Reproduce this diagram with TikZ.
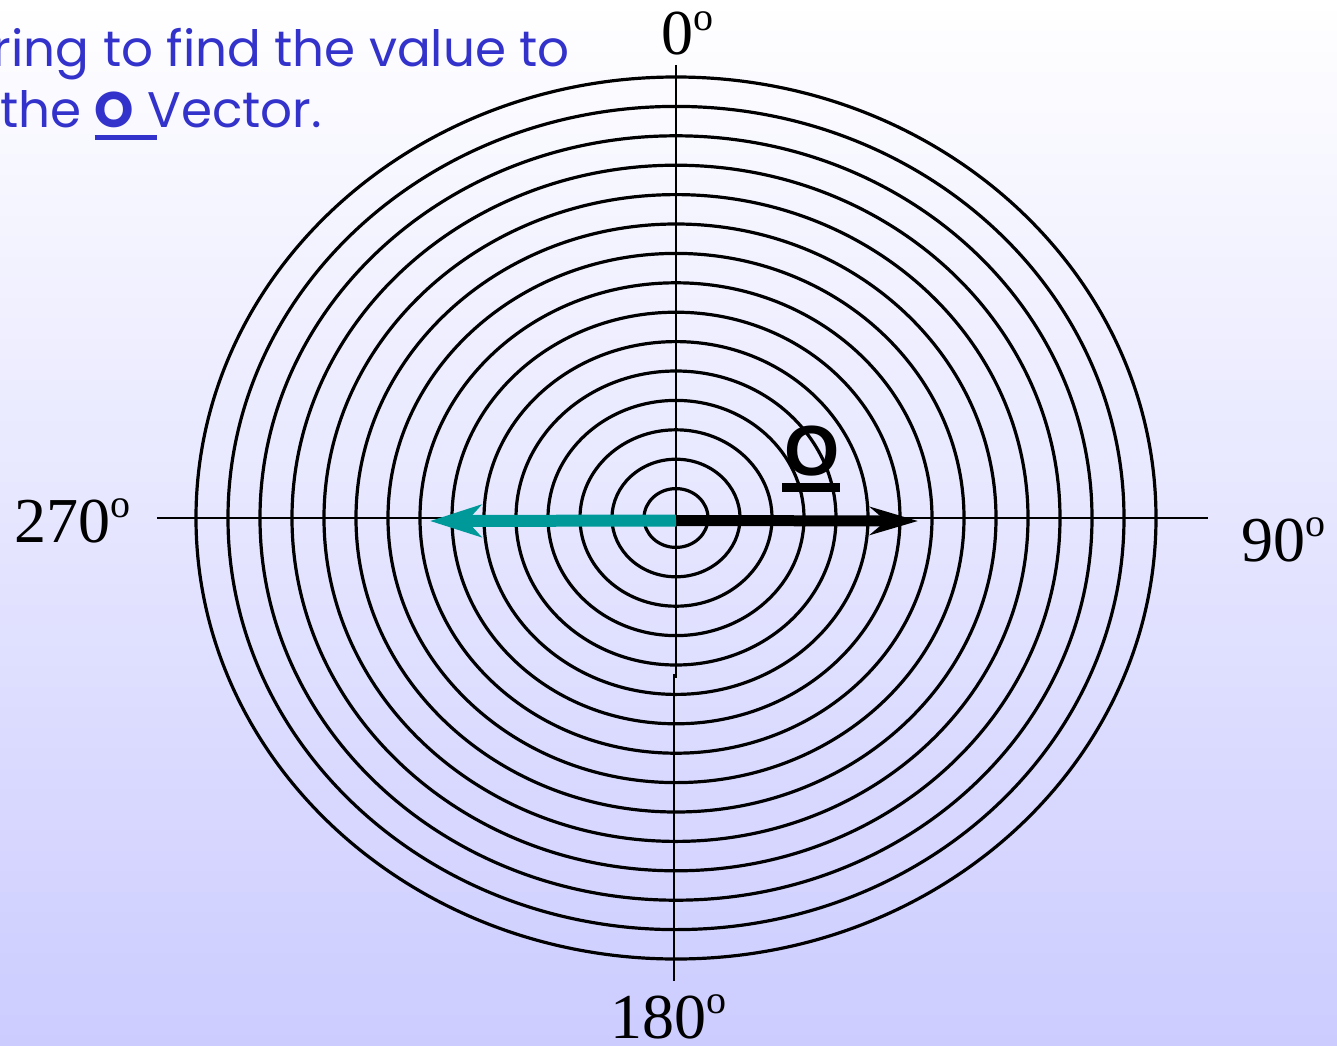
\documentclass[tikz,border=0pt]{standalone}
\usepackage{fontspec}
\usetikzlibrary{arrows.meta,positioning}
\newfontfamily\degfont{Liberation Serif}
\newfontfamily\notefont{Poppins}
\newfontfamily\vecfont{Liberation Sans}
\definecolor{notecol}{RGB}{51,51,204}
\definecolor{tealvec}{RGB}{0,153,153}
\definecolor{bgbottom}{RGB}{204,204,255}
\newcommand{\degsup}{\raisebox{0.39em}{\fontsize{40}{40}\selectfont o}}

\begin{document}
\begin{tikzpicture}[x=1pt,y=1pt,
  ring/.style={draw,line width=3.2pt},
  axisline/.style={line width=2.8pt},
  degree/.style={inner sep=0pt,anchor=base west,font=\degfont\fontsize{64}{64}\selectfont},
  note/.style={inner sep=0pt,text=notecol,font=\notefont\fontsize{50}{50}\selectfont},
  olabel/.style={inner sep=0pt,anchor=base,font=\vecfont\bfseries\fontsize{71}{71}\selectfont},
  outvec/.style={line width=11pt,-{Stealth[length=48pt,width=28pt,inset=16pt]}},
  backvec/.style={tealvec,line width=12pt,-{Stealth[length=51pt,width=32pt,inset=14pt]}}
]
  \useasboundingbox (-676,-527) rectangle (661,518);
  \clip (-676,-527) rectangle (661,518);
  \shade[top color=white,bottom color=bgbottom] (-676,-527) rectangle (661,518);

  \node[note,anchor=base east] (line1) at (-106,451) {ring to find the value to};
  \node[note,anchor=base west] (line2) at (-676,390) {the {\rlap{\rule[-12pt]{62pt}{5pt}}\bfseries O}\ Vector.};

  \coordinate (c) at (0,0);
  \foreach \k in {1,...,15}
    \draw[ring] (c) ellipse [x radius={\k*32pt}, y radius={\k*29.4pt}];

  \coordinate (west) at (-519,0);
  \coordinate (east) at (532,0);
  \coordinate (north) at (0,453);
  \coordinate (jogA) at (0,-160);
  \coordinate (jogB) at (-2,-156);
  \coordinate (south) at (-2,-463);
  \draw[axisline] (west) -- (east);
  \draw[axisline] (north) -- (jogA);
  \draw[axisline] (jogB) -- (south);

  \coordinate (vstart) at (0,-2.5);
  \coordinate (otip) at (242,-3);
  \coordinate (btip) at (-246,-3);
  \draw[outvec] (vstart) -- (otip);
  \draw[backvec] (vstart) -- (btip);

  \node[olabel] (olbl) at (136,43) {O};
  \draw[line width=9pt] ([xshift=-2pt,yshift=-12pt]olbl.base west) -- ([yshift=-12pt]olbl.base east);

  \node[degree] (d0) at (-15,463) {0\degsup};
  \node[degree] (d90) at (565,-43) {90\degsup};
  \node[degree] (d180) at (-66,-520) {180\degsup};
  \node[degree] (d270) at (-662,-24) {270\degsup};
\end{tikzpicture}
\end{document}
